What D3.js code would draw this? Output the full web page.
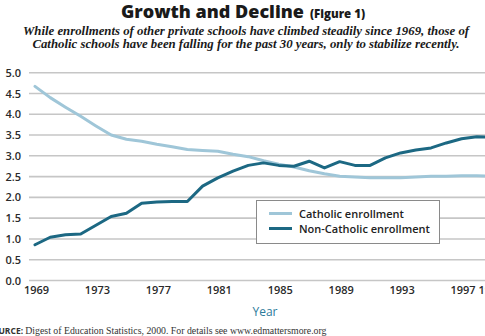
<!DOCTYPE html>
<html><head><meta charset="utf-8">
<script src="https://cdn.jsdelivr.net/npm/d3@7"></script>
<style>
html,body{margin:0;padding:0;background:#fff;overflow:hidden}
svg{display:block}
</style></head><body>
<svg id="c" width="485" height="336"></svg>
<script>
const years = d3.range(1969, 2000);
const catholic = [4.67, 4.40, 4.17, 3.95, 3.72, 3.50, 3.40, 3.35, 3.28, 3.22, 3.15, 3.13, 3.11, 3.04, 2.98,
  2.88, 2.80, 2.73, 2.64, 2.57, 2.51, 2.49, 2.47, 2.47, 2.47, 2.49, 2.51, 2.51, 2.52, 2.52, 2.51];
const nonCatholic = [0.86, 1.04, 1.10, 1.12, 1.33, 1.54, 1.62, 1.86, 1.89, 1.90, 1.90, 2.27, 2.47, 2.63, 2.77,
  2.83, 2.77, 2.75, 2.87, 2.71, 2.86, 2.77, 2.77, 2.95, 3.07, 3.14, 3.19, 3.31, 3.41, 3.46, 3.45];
const yTicks = [0, 0.5, 1, 1.5, 2, 2.5, 3, 3.5, 4, 4.5, 5];
const xTicks = [1969, 1973, 1977, 1981, 1985, 1989, 1993, 1997, 1999];
const seriesNames = ["Catholic enrollment", "Non-Catholic enrollment"];
const colors = ["#9fc6d8", "#1c6883"];

const svg = d3.select("#c");
const x = d3.scaleLinear().domain([1969, 1999]).range([35, 492]);
const y = d3.scaleLinear().domain([0, 5]).range([280.5, 72.7]);
const sans = "'Open Sans', 'DejaVu Sans', sans-serif";

// Title
const t = svg.append("text").attr("x", 243).attr("y", 18).attr("text-anchor", "middle")
  .attr("font-family", sans).attr("fill", "#1a1a1a");
t.append("tspan").attr("font-size", 18).attr("font-weight", 800).text("Growth and Decline");
t.append("tspan").attr("font-size", 11.5).attr("font-weight", 800).attr("dx", 6).text("(Figure 1)");

const sub = ["While enrollments of other private schools have climbed steadily since 1969, those of",
  "Catholic schools have been falling for the past 30 years, only to stabilize recently."];
svg.selectAll("text.sub").data(sub).join("text").attr("class", "sub")
  .attr("x", 246).attr("y", (d, i) => 35 + i * 13).attr("text-anchor", "middle")
  .attr("font-family", "'Liberation Serif', serif").attr("font-style", "italic").attr("font-weight", "bold")
  .attr("font-size", 12.8).attr("fill", "#1a1a1a").text(d => d);

// Grid
svg.append("g").selectAll("line").data(yTicks).join("line")
  .attr("x1", 29).attr("x2", 485).attr("y1", d => y(d)).attr("y2", d => y(d))
  .attr("stroke", "#c6c6c6").attr("stroke-width", 1.6);

// Y axis labels
const yAxis = d3.axisLeft(y).tickValues(yTicks).tickFormat(d3.format(".1f")).tickSize(0).tickPadding(0);
const gy = svg.append("g").attr("transform", "translate(21,0)").call(yAxis);
gy.select(".domain").remove();
gy.selectAll("text").attr("font-family", sans).attr("font-size", 11).attr("font-weight", 600).attr("fill", "#2a2a2a");

// X axis labels
const xAxis = d3.axisBottom(x).tickValues(xTicks).tickFormat(d3.format("d")).tickSize(0).tickPadding(0);
const gx = svg.append("g").attr("transform", "translate(1,286)").call(xAxis);
gx.select(".domain").remove();
gx.selectAll("text").attr("font-family", sans).attr("font-size", 11).attr("font-weight", 600).attr("fill", "#2a2a2a");
gx.selectAll(".tick").filter(d => d === 1999).select("text").attr("dx", -2.5);

svg.append("text").attr("x", 265).attr("y", 316).attr("text-anchor", "middle")
  .attr("font-family", sans).attr("font-size", 12).attr("fill", "#2b7b9b").text("Year");

// Lines
const line = d3.line().x((d, i) => x(years[i])).y(d => y(d));
[catholic, nonCatholic].forEach((s, k) => {
  svg.append("path").datum(s).attr("d", line).attr("fill", "none")
    .attr("stroke", colors[k]).attr("stroke-width", 3).attr("stroke-linejoin", "round").attr("stroke-linecap", "round");
});

// Legend
const lg = svg.append("g");
lg.append("rect").attr("x", 256.5).attr("y", 200.5).attr("width", 183).attr("height", 43)
  .attr("fill", "#fff").attr("stroke", "#8a8a8a").attr("stroke-width", 1);
seriesNames.forEach((n, k) => {
  const yy = 213.5 + k * 15;
  lg.append("line").attr("x1", 269).attr("x2", 292).attr("y1", yy).attr("y2", yy)
    .attr("stroke", colors[k]).attr("stroke-width", 3);
  lg.append("text").attr("x", 299).attr("y", yy + 4).attr("font-family", sans).attr("font-size", 11)
    .attr("font-weight", 600).attr("fill", "#222").text(n);
});

// Source (cut off at the left edge, as in the reference)
const src = svg.append("text").attr("x", -13).attr("y", 334).attr("font-size", 9.8).attr("fill", "#333");
src.append("tspan").attr("font-family", sans).attr("font-weight", 700).attr("font-size", 8.5).text("SOURCE: ");
src.append("tspan").attr("font-family", "'Liberation Serif', serif").text("Digest of Education Statistics, 2000. For details see www.edmattersmore.org");
</script>
</body></html>
